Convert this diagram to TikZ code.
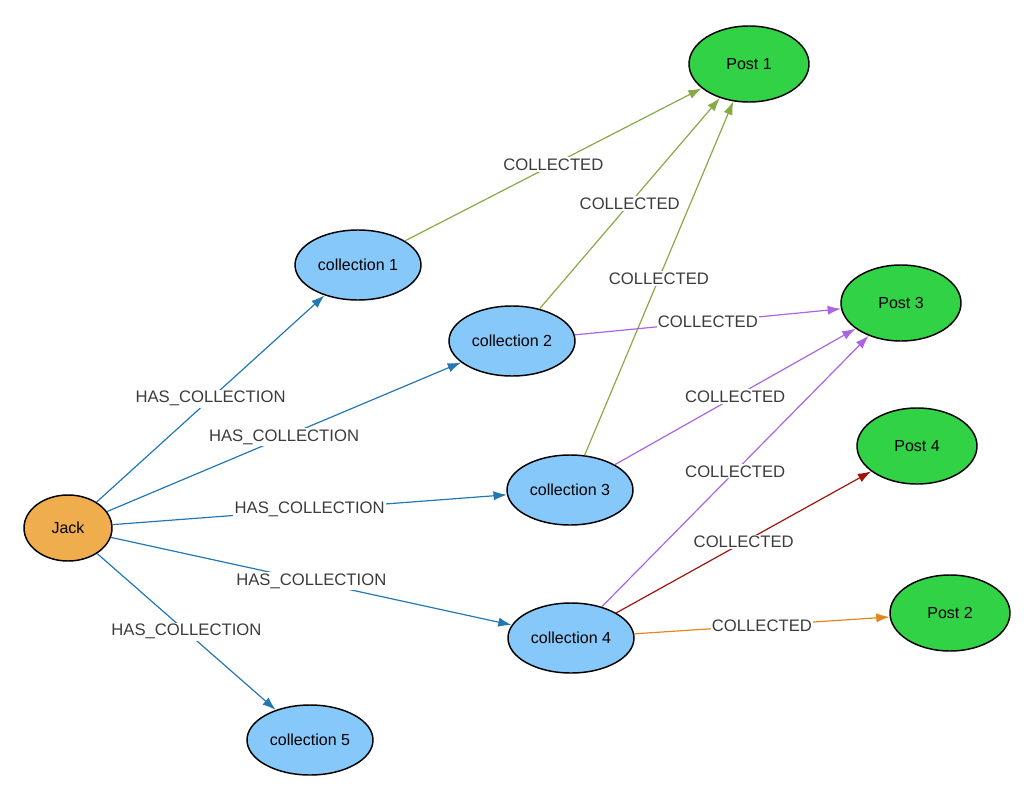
\documentclass[tikz,border=0pt]{standalone}
\usepackage{fontspec}
\setmainfont{Liberation Sans}
\usetikzlibrary{shapes.geometric}
\usetikzlibrary{arrows.meta}
\definecolor{hasblue}{RGB}{35,120,180}
\definecolor{colgreen}{RGB}{136,170,70}
\definecolor{colpurple}{RGB}{170,100,230}
\definecolor{colred}{RGB}{160,20,10}
\definecolor{colorange}{RGB}{225,135,30}
\definecolor{userfill}{RGB}{240,173,78}
\definecolor{collfill}{RGB}{135,200,250}
\definecolor{postfill}{RGB}{50,210,70}
\definecolor{labeltext}{RGB}{60,60,60}
\tikzset{
    every node/.append style={font=\fontsize{12}{14}\selectfont},
    user/.style={ellipse, draw=black, line width=1.1pt, fill=userfill, inner sep=0pt, minimum width=66pt, minimum height=49.5pt},
    coll/.style={ellipse, draw=black, line width=1.1pt, fill=collfill, inner sep=0pt, minimum width=94.5pt, minimum height=52.5pt},
    post/.style={ellipse, draw=black, line width=1.1pt, fill=postfill, inner sep=0pt, minimum width=90pt, minimum height=57pt},
    rel/.style={-{Latex[length=10pt,width=7pt]}, line width=0.9pt},
    has/.style={rel, hasblue},
    lbl/.style={midway, fill=white, inner sep=1pt, text=labeltext, font=\fontsize{12.5}{14}\selectfont},
    x=0.75pt, y=-0.75pt
}
\begin{document}
\begin{tikzpicture}
\useasboundingbox (0,0) rectangle (1035,799);
\node[user] (Jack) at (68,528) {Jack};
\node[coll] (C1) at (358,265) {collection 1};
\node[coll] (C2) at (512,341) {collection 2};
\node[coll] (C3) at (570,490) {collection 3};
\node[coll] (C4) at (571,638) {collection 4};
\node[coll] (C5) at (310,740) {collection 5};
\node[post] (P1) at (749,64) {Post 1};
\node[post] (P3) at (901,303) {Post 3};
\node[post] (P4) at (917,446) {Post 4};
\node[post] (P2) at (950,613) {Post 2};

\draw[has] (Jack) -- (C1) node[lbl] {HAS\_COLLECTION};
\draw[has] (Jack) -- (C2) node[lbl] {HAS\_COLLECTION};
\draw[has] (Jack) -- (C3) node[lbl] {HAS\_COLLECTION};
\draw[has] (Jack) -- (C4) node[lbl] {HAS\_COLLECTION};
\draw[has] (Jack) -- (C5) node[lbl] {HAS\_COLLECTION};

\draw[rel, colgreen] (C1) -- (P1) node[lbl] {COLLECTED};
\draw[rel, colgreen] (C2) -- (P1) node[lbl] {COLLECTED};
\draw[rel, colgreen] (C3) -- (P1) node[lbl] {COLLECTED};
\draw[rel, colpurple] (C2) -- (P3) node[lbl] {COLLECTED};
\draw[rel, colpurple] (C3) -- (P3) node[lbl] {COLLECTED};
\draw[rel, colpurple] (C4) -- (P3) node[lbl] {COLLECTED};
\draw[rel, colred] (C4) -- (P4) node[lbl] {COLLECTED};
\draw[rel, colorange] (C4) -- (P2) node[lbl] {COLLECTED};
\end{tikzpicture}
\end{document}
